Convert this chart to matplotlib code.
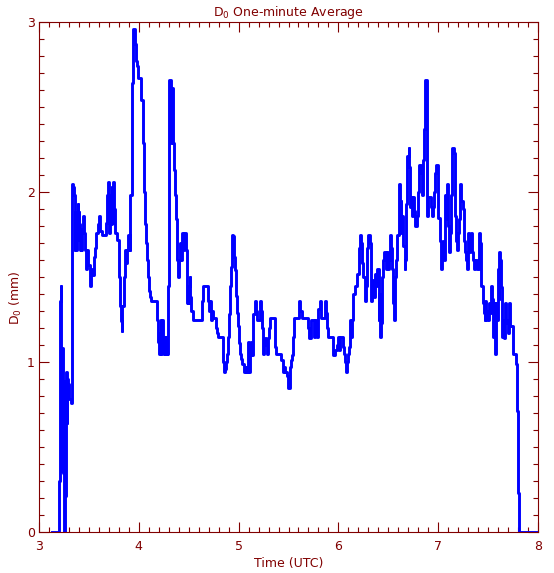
import matplotlib
matplotlib.use("Agg")
import matplotlib.pyplot as plt
from matplotlib.ticker import MultipleLocator

# change points (hours UTC) and D0 values (mm); value holds until next time
times = [
 3.133, 3.200, 3.206, 3.212, 3.218, 3.224, 3.232, 3.240, 3.246, 3.256, 3.262, 3.268, 3.276, 3.284, 3.294,
 3.304, 3.318, 3.326, 3.332, 3.344, 3.351, 3.358, 3.364, 3.371, 3.378, 3.386, 3.392, 3.398, 3.405, 3.412,
 3.418, 3.425, 3.432, 3.440, 3.448, 3.462, 3.468, 3.478, 3.488, 3.515, 3.525, 3.535, 3.548, 3.558, 3.575,
 3.594, 3.603, 3.612, 3.632, 3.672, 3.680, 3.692, 3.700, 3.708, 3.715, 3.728, 3.735, 3.745, 3.752, 3.765,
 3.782, 3.797, 3.808, 3.823, 3.830, 3.835, 3.852, 3.863, 3.872, 3.880, 3.895, 3.908, 3.915, 3.932, 3.942,
 3.962, 3.972, 3.982, 3.990,
 4.025, 4.039, 4.052, 4.065, 4.072, 4.079, 4.092, 4.099, 4.105, 4.115, 4.125, 4.186, 4.192, 4.199, 4.212,
 4.219, 4.226, 4.232, 4.240, 4.250, 4.259, 4.266, 4.280, 4.286, 4.296, 4.302, 4.306, 4.319, 4.326, 4.332,
 4.339, 4.346, 4.353, 4.366, 4.372, 4.379, 4.386, 4.393, 4.403, 4.413, 4.420, 4.433, 4.445, 4.455, 4.468,
 4.480, 4.490, 4.497, 4.505, 4.510, 4.515, 4.526, 4.543, 4.633, 4.647, 4.690, 4.697, 4.705, 4.715, 4.722,
 4.735, 4.747, 4.773, 4.783, 4.793, 4.847, 4.857, 4.867, 4.877, 4.887, 4.895, 4.902, 4.915, 4.927, 4.934,
 4.941, 4.947, 4.955, 4.964, 4.974, 4.984, 4.994,
 5.004, 5.014, 5.024, 5.034, 5.054, 5.064, 5.074, 5.081, 5.088, 5.094, 5.101, 5.108, 5.115, 5.128, 5.138,
 5.148, 5.161, 5.174, 5.184, 5.214, 5.224, 5.234, 5.241, 5.248, 5.258, 5.268, 5.278, 5.288, 5.298, 5.308,
 5.315, 5.361, 5.371, 5.428, 5.441, 5.455, 5.468, 5.481, 5.495, 5.515, 5.525, 5.535, 5.548, 5.558, 5.602,
 5.615, 5.640, 5.695, 5.705, 5.728, 5.742, 5.755, 5.769, 5.782, 5.796, 5.816, 5.826, 5.869, 5.879, 5.889,
 5.900, 5.949, 5.962, 5.986, 5.996,
 6.006, 6.016, 6.043, 6.053, 6.063, 6.076, 6.086, 6.096, 6.106, 6.116, 6.126, 6.136, 6.150, 6.163, 6.190,
 6.203, 6.216, 6.230, 6.240, 6.250, 6.263, 6.273, 6.283, 6.290, 6.296, 6.316, 6.323, 6.330, 6.340, 6.350,
 6.360, 6.370, 6.380, 6.390, 6.403, 6.410, 6.417, 6.423, 6.430, 6.440, 6.450, 6.460, 6.480, 6.490, 6.497,
 6.504, 6.517, 6.530, 6.537, 6.544, 6.557, 6.570, 6.580, 6.590, 6.604, 6.617, 6.624, 6.630, 6.640, 6.651,
 6.664, 6.670, 6.677, 6.684, 6.691, 6.704, 6.711, 6.717, 6.731, 6.741, 6.751, 6.761, 6.771, 6.791, 6.798,
 6.804, 6.824, 6.834, 6.844, 6.851, 6.858, 6.864, 6.871, 6.884, 6.891, 6.898, 6.928, 6.938, 6.948, 6.958,
 6.971, 6.978, 6.998,
 7.015, 7.025, 7.035, 7.045, 7.055, 7.065, 7.075, 7.085, 7.098, 7.112, 7.122, 7.132, 7.138, 7.155, 7.165,
 7.172, 7.178, 7.188, 7.198, 7.208, 7.218, 7.232, 7.245, 7.255, 7.265, 7.275, 7.285, 7.295, 7.305, 7.318,
 7.332, 7.342, 7.352, 7.362, 7.372, 7.388, 7.405, 7.419, 7.426, 7.432, 7.446, 7.456, 7.466, 7.472, 7.479,
 7.492, 7.506, 7.516, 7.526, 7.536, 7.546, 7.556, 7.566, 7.579, 7.589, 7.599, 7.606, 7.612, 7.622, 7.633,
 7.643, 7.653, 7.663, 7.673, 7.683, 7.693, 7.703, 7.713, 7.723, 7.753, 7.780, 7.790, 7.800, 7.806, 7.985,
]
d0 = [
 0.00, 0.30, 0.93, 1.36, 1.45, 0.36, 1.08, 0.35, 0.00, 0.89, 0.21, 0.94, 0.64, 0.90, 0.87,
 0.78, 0.76, 1.40, 2.05, 2.03, 1.98, 1.66, 1.88, 1.66, 1.80, 1.93, 1.72, 1.88, 1.81, 1.66,
 1.76, 1.66, 1.78, 1.86, 1.76, 1.66, 1.55, 1.66, 1.57, 1.45, 1.55, 1.51, 1.62, 1.67, 1.76,
 1.81, 1.86, 1.77, 1.75, 1.82, 1.98, 2.06, 1.76, 1.98, 1.81, 2.03, 1.82, 2.06, 1.90, 1.76,
 1.72, 1.50, 1.33, 1.24, 1.18, 1.33, 1.50, 1.66, 1.58, 1.66, 1.75, 1.66, 1.98, 2.64, 2.96,
 2.87, 2.77, 2.74, 2.67,
 2.54, 2.29, 2.00, 1.81, 1.70, 1.60, 1.50, 1.45, 1.42, 1.38, 1.36, 1.25, 1.12, 1.05, 1.17,
 1.25, 1.05, 1.25, 1.10, 1.05, 1.15, 1.05, 1.15, 1.05, 1.45, 2.27, 2.66, 2.61, 2.29, 2.61,
 2.50, 2.29, 2.13, 1.98, 1.84, 1.70, 1.60, 1.50, 1.60, 1.70, 1.60, 1.76, 1.66, 1.76, 1.66,
 1.35, 1.45, 1.35, 1.45, 1.50, 1.38, 1.30, 1.25, 1.36, 1.45, 1.40, 1.36, 1.30, 1.36, 1.25,
 1.30, 1.26, 1.20, 1.17, 1.15, 1.00, 0.94, 0.96, 1.00, 1.05, 1.15, 1.28, 1.45, 1.56, 1.75,
 1.69, 1.74, 1.62, 1.54, 1.39, 1.29, 1.21,
 1.11, 1.05, 1.02, 0.99, 0.94, 0.97, 0.94, 0.97, 0.94, 1.12, 1.00, 0.94, 1.04, 1.12, 1.04,
 1.28, 1.36, 1.30, 1.25, 1.36, 1.30, 1.20, 1.14, 1.05, 1.10, 1.14, 1.10, 1.05, 1.14, 1.20,
 1.26, 1.09, 1.05, 1.01, 0.94, 0.97, 0.94, 0.92, 0.85, 0.97, 1.01, 1.04, 1.15, 1.26, 1.36,
 1.30, 1.26, 1.20, 1.14, 1.25, 1.25, 1.15, 1.25, 1.15, 1.31, 1.36, 1.26, 1.36, 1.29, 1.20,
 1.15, 1.04, 1.07, 1.10, 1.15,
 1.07, 1.15, 1.09, 1.05, 1.00, 0.94, 1.00, 1.05, 1.09, 1.25, 1.15, 1.25, 1.40, 1.45, 1.52,
 1.67, 1.75, 1.70, 1.58, 1.50, 1.36, 1.45, 1.58, 1.67, 1.75, 1.70, 1.50, 1.36, 1.45, 1.48,
 1.38, 1.52, 1.45, 1.55, 1.25, 1.40, 1.15, 1.25, 1.23, 1.50, 1.60, 1.65, 1.55, 1.65, 1.55,
 1.60, 1.75, 1.67, 1.55, 1.35, 1.25, 1.50, 1.60, 1.75, 2.05, 1.86, 1.95, 1.76, 1.86, 1.68,
 1.55, 1.60, 1.93, 2.10, 2.21, 2.26, 2.15, 1.91, 1.97, 1.86, 1.97, 1.89, 1.80, 1.86, 2.00,
 2.16, 2.11, 1.98, 2.03, 2.19, 2.37, 2.46, 2.66, 2.03, 1.86, 1.97, 1.91, 1.86, 1.91, 2.00,
 2.11, 2.16, 1.85,
 1.71, 1.55, 1.65, 1.71, 1.60, 1.98, 1.84, 2.05, 1.80, 1.65, 1.76, 1.98, 2.26, 2.23, 2.18,
 1.86, 1.71, 1.66, 1.76, 1.84, 2.05, 1.95, 1.90, 1.71, 1.65, 1.60, 1.55, 1.76, 1.65, 1.70,
 1.76, 1.65, 1.60, 1.55, 1.60, 1.55, 1.76, 1.70, 1.60, 1.45, 1.35, 1.29, 1.25, 1.36, 1.30,
 1.25, 1.35, 1.29, 1.45, 1.37, 1.15, 1.35, 1.05, 1.35, 1.25, 1.55, 1.37, 1.65, 1.60, 1.44,
 1.15, 1.25, 1.14, 1.35, 1.23, 1.25, 1.17, 1.35, 1.21, 1.05, 0.99, 0.71, 0.23, 0.00, 0.00,
]

title = "D$_0$ One-minute Average"
xlabel = "Time (UTC)"
ylabel = "D$_0$ (mm)"
axis_color = "#800000"

fig = plt.figure(figsize=(5.54, 5.73), dpi=100)
ax = fig.add_axes([39/554, 1-532/573, (538-39)/554, (532-22)/573])
ax.plot(times, d0, drawstyle="steps-post", color="#0000ff", lw=2.1, antialiased=True)

ax.set_xlim(3, 8)
ax.set_ylim(0, 3)
ax.xaxis.set_major_locator(MultipleLocator(1))
ax.xaxis.set_minor_locator(MultipleLocator(0.1))
ax.yaxis.set_major_locator(MultipleLocator(1))
ax.yaxis.set_minor_locator(MultipleLocator(0.1))
ax.tick_params(which="both", direction="in", top=True, right=True, colors=axis_color,
               labelsize=9, width=0.8)
ax.tick_params(which="major", length=7.5)
ax.tick_params(which="minor", length=3.8)
ax.tick_params(axis="x", which="major", pad=6)
ax.tick_params(axis="y", which="major", pad=3)
for s in ax.spines.values():
    s.set_color(axis_color)
    s.set_linewidth(0.8)

ax.set_title(title, color=axis_color, fontsize=9, pad=4)
ax.set_xlabel(xlabel, color=axis_color, fontsize=9, labelpad=3)
ax.set_ylabel(ylabel, color=axis_color, fontsize=9)
ax.yaxis.set_label_coords(-0.030, 0.46)

fig.savefig("out.png", dpi=100)
